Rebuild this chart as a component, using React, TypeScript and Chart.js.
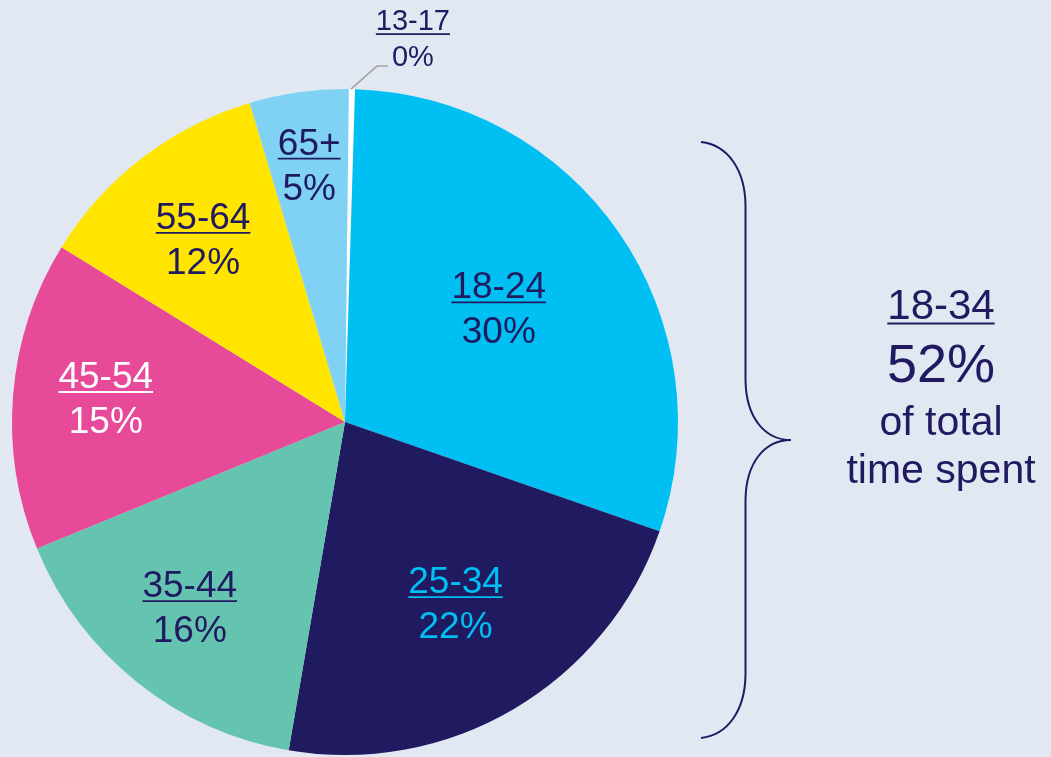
import React, { useEffect, useRef } from "react";
import { Chart, registerables } from "chart.js";

Chart.register(...registerables);

// ---- data ----
const ageGroups = ["13-17", "18-24", "25-34", "35-44", "45-54", "55-64", "65+"];
const shares = [0.3, 29.85, 22.4, 16.1, 15.0, 11.6, 4.8];
const shareLabels = ["0%", "30%", "22%", "16%", "15%", "12%", "5%"];
const summaryGroup = "18-34";
const summaryShare = "52%";
const summaryText = ["of total", "time spent"];

// ---- styles ----
const BG = "#E1E8F2";
const NAVY = "#201A61";
const sliceColors = ["#FFFFFF", "#00BFF3", "#201A61", "#65C4AF", "#E84A9A", "#FFE500", "#80D2F5"];
const labelColors = [NAVY, NAVY, "#00BFF3", NAVY, "#FFFFFF", NAVY, NAVY];
// label anchor: [angle tweak in degrees, fraction of radius]
const labelPlacement: [number, number][] = [
  [0, 0],
  [-3.3, 0.585],
  [-1.7, 0.622],
  [2.2, 0.712],
  [2.5, 0.724],
  [0.6, 0.71],
  [0.25, 0.798],
];
const FONT = "'Liberation Sans', Arial, sans-serif";

function drawLabel(
  ctx: CanvasRenderingContext2D,
  x: number,
  underlineY: number,
  top: string,
  bottom: string,
  color: string,
  size: number,
  gap: number
) {
  ctx.save();
  ctx.fillStyle = color;
  ctx.strokeStyle = color;
  ctx.font = `${size}px ${FONT}`;
  ctx.textAlign = "center";
  ctx.textBaseline = "alphabetic";
  ctx.fillText(top, x, underlineY - 4);
  const w = ctx.measureText(top).width;
  ctx.lineWidth = 1.8;
  ctx.beginPath();
  ctx.moveTo(x - w / 2, underlineY);
  ctx.lineTo(x + w / 2, underlineY);
  ctx.stroke();
  ctx.fillText(bottom, x, underlineY + gap);
  ctx.restore();
}

const overlayPlugin = {
  id: "overlay",
  beforeDraw(chart: any) {
    const { ctx, width, height } = chart;
    ctx.save();
    ctx.fillStyle = BG;
    ctx.fillRect(0, 0, width, height);
    ctx.restore();
  },
  afterDatasetsDraw(chart: any) {
    const { ctx } = chart;
    const meta = chart.getDatasetMeta(0);
    meta.data.forEach((arc: any, i: number) => {
      const { x, y, startAngle, endAngle, outerRadius } = arc.getProps(
        ["x", "y", "startAngle", "endAngle", "outerRadius"],
        true
      );
      const mid = (startAngle + endAngle) / 2;
      if (i === 0) {
        // leader line for tiny slice
        const sx = x + Math.cos(mid) * outerRadius;
        const sy = y + Math.sin(mid) * outerRadius;
        ctx.save();
        ctx.strokeStyle = "#A3A3A3";
        ctx.lineWidth = 1.5;
        ctx.beginPath();
        ctx.moveTo(sx - 1, sy);
        ctx.lineTo(sx + 25, sy - 23);
        ctx.lineTo(sx + 36, sy - 23);
        ctx.stroke();
        ctx.restore();
        drawLabel(ctx, sx + 61, sy - 55, ageGroups[i], shareLabels[i], labelColors[i], 29, 32);
        return;
      }
      const [tweak, frac] = labelPlacement[i];
      const a = mid + (tweak * Math.PI) / 180;
      const lx = x + Math.cos(a) * outerRadius * frac;
      const ly = y + Math.sin(a) * outerRadius * frac;
      drawLabel(ctx, lx, ly, ageGroups[i], shareLabels[i], labelColors[i], 37, 41);
    });
  },
  afterDraw(chart: any) {
    const { ctx } = chart;
    // curly brace
    ctx.save();
    ctx.strokeStyle = NAVY;
    ctx.lineWidth = 2;
    ctx.beginPath();
    ctx.moveTo(701, 142);
    ctx.bezierCurveTo(728, 145, 745, 170, 745.5, 205);
    ctx.lineTo(745.5, 380);
    ctx.bezierCurveTo(746, 418, 765, 440, 791, 440);
    ctx.bezierCurveTo(765, 440, 746, 462, 745.5, 500);
    ctx.lineTo(745.5, 675);
    ctx.bezierCurveTo(745, 710, 728, 735, 701, 738);
    ctx.stroke();
    ctx.restore();

    // summary text
    const cx = 941;
    ctx.save();
    ctx.fillStyle = NAVY;
    ctx.strokeStyle = NAVY;
    ctx.textAlign = "center";
    ctx.textBaseline = "alphabetic";
    ctx.font = `42px ${FONT}`;
    ctx.fillText(summaryGroup, cx, 319);
    const w = ctx.measureText(summaryGroup).width;
    ctx.lineWidth = 1.8;
    ctx.beginPath();
    ctx.moveTo(cx - w / 2, 323.5);
    ctx.lineTo(cx + w / 2, 323.5);
    ctx.stroke();
    ctx.font = `54px ${FONT}`;
    ctx.fillText(summaryShare, cx, 382);
    ctx.font = `41px ${FONT}`;
    ctx.fillText(summaryText[0], cx, 435);
    ctx.fillText(summaryText[1], cx, 483);
    ctx.restore();
  },
};

export default function App() {
  const canvasRef = useRef<HTMLCanvasElement | null>(null);

  useEffect(() => {
    if (!canvasRef.current) return;
    const chart = new Chart(canvasRef.current, {
      type: "pie",
      data: {
        labels: ageGroups,
        datasets: [
          {
            data: shares,
            backgroundColor: sliceColors,
            borderWidth: 0,
            hoverBorderWidth: 0,
            hoverOffset: 0,
            offset: 0,
          },
        ],
      },
      options: {
        animation: false,
        responsive: false,
        devicePixelRatio: 1,
        events: [],
        rotation: 0.65,
        layout: { padding: { left: 12, top: 89, right: 373, bottom: 2 } },
        plugins: {
          legend: { display: false },
          tooltip: { enabled: false },
          title: { display: false },
        },
      },
      plugins: [overlayPlugin],
    });
    return () => chart.destroy();
  }, []);

  return (
    <div style={{ position: "fixed", left: 0, top: 0, width: 1051, height: 757, background: BG }}>
      <canvas ref={canvasRef} width={1051} height={757} style={{ display: "block" }} />
    </div>
  );
}
